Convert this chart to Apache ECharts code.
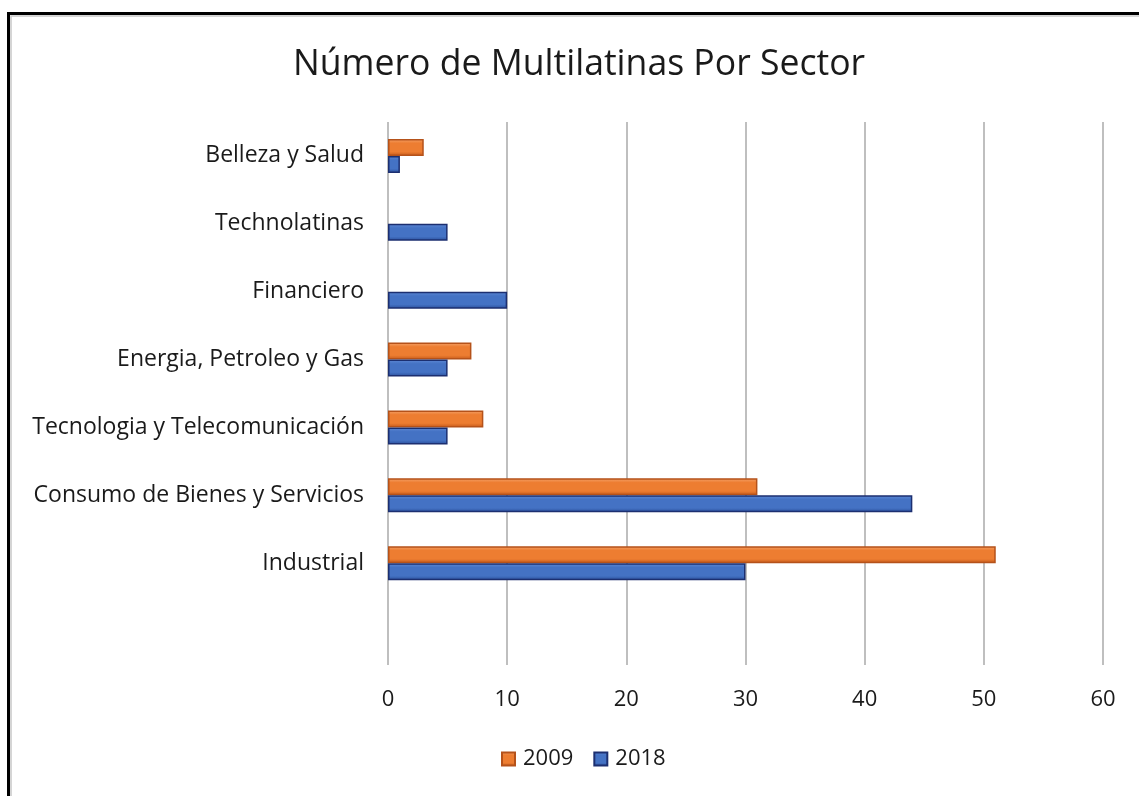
<!DOCTYPE html>
<html>
<head>
<meta charset="utf-8">
<script src="https://cdn.jsdelivr.net/npm/echarts@6/dist/echarts.min.js"></script>
<style>
html,body{margin:0;padding:0;background:#fff;}
#chart{width:1139px;height:796px;}
</style>
</head>
<body>
<div id="chart"></div>
<script>
var categories = ['Belleza y Salud', 'Technolatinas', 'Financiero', 'Energia, Petroleo y Gas', 'Tecnologia y Telecomunicación', 'Consumo de Bienes y Servicios', 'Industrial', ''];
var values2009 = [3, null, null, 7, 8, 31, 51, null];
var values2018 = [1, 5, 10, 5, 5, 44, 30, null];
var xTicks = [0, 10, 20, 30, 40, 50, 60];
var seriesNames = ['2009', '2018'];

var FONT = 'Open Sans';
var chart = echarts.init(document.getElementById('chart'), null, {renderer: 'canvas'});

function grad(light, mid, dark) {
  return new echarts.graphic.LinearGradient(0, 0, 0, 1, [
    {offset: 0, color: light}, {offset: 0.25, color: mid}, {offset: 0.75, color: mid}, {offset: 1, color: dark}
  ]);
}

chart.setOption({
  animation: false,
  backgroundColor: '#fff',
  title: {
    text: 'Número de Multilatinas Por Sector',
    left: 288,
    top: 42,
    textStyle: {fontFamily: FONT, fontSize: 35.6, fontWeight: 'normal', color: '#1a1a1a'}
  },
  legend: {
    data: seriesNames,
    bottom: 21,
    left: 496,
    itemWidth: 13,
    itemHeight: 13,
    itemGap: 20,
    icon: 'rect',
    textStyle: {fontFamily: FONT, fontSize: 22, color: '#1a1a1a', padding: [0, 0, 0, 3]}
  },
  grid: {left: 388, right: 36, top: 122, bottom: 131, containLabel: false},
  xAxis: {
    type: 'value',
    min: xTicks[0],
    max: xTicks[xTicks.length - 1],
    interval: 10,
    axisLine: {show: false},
    axisTick: {show: false},
    axisLabel: {fontFamily: FONT, fontSize: 22, color: '#1a1a1a', margin: 24},
    splitLine: {show: true, lineStyle: {color: '#bfbfbf', width: 2}}
  },
  yAxis: {
    type: 'category',
    data: categories,
    inverse: true,
    axisLine: {show: false},
    axisTick: {show: false},
    axisLabel: {fontFamily: FONT, fontSize: 23, color: '#1a1a1a', margin: 24}
  },
  series: [
    {
      name: seriesNames[0], type: 'bar', data: values2009,
      barGap: '0%', barCategoryGap: '50%',
      itemStyle: {color: grad('#f4a36b', '#ed7d31', '#c4591a'), borderColor: '#b5521a', borderWidth: 1.5}
    },
    {
      name: seriesNames[1], type: 'bar', data: values2018,
      barGap: '0%', barCategoryGap: '50%',
      itemStyle: {color: grad('#5f8ad6', '#4472c4', '#2a4f9a'), borderColor: '#1c2f70', borderWidth: 1.5}
    }
  ],
  graphic: [
    {type: 'rect', shape: {x: 8.5, y: 13.5, width: 1200, height: 900}, style: {fill: null, stroke: '#000', lineWidth: 3}},
    {type: 'polyline', shape: {points: [[11, 900], [11, 16], [1200, 16]]}, style: {fill: null, stroke: '#c8c8c8', lineWidth: 1.5}}
  ]
});
</script>
</body>
</html>
